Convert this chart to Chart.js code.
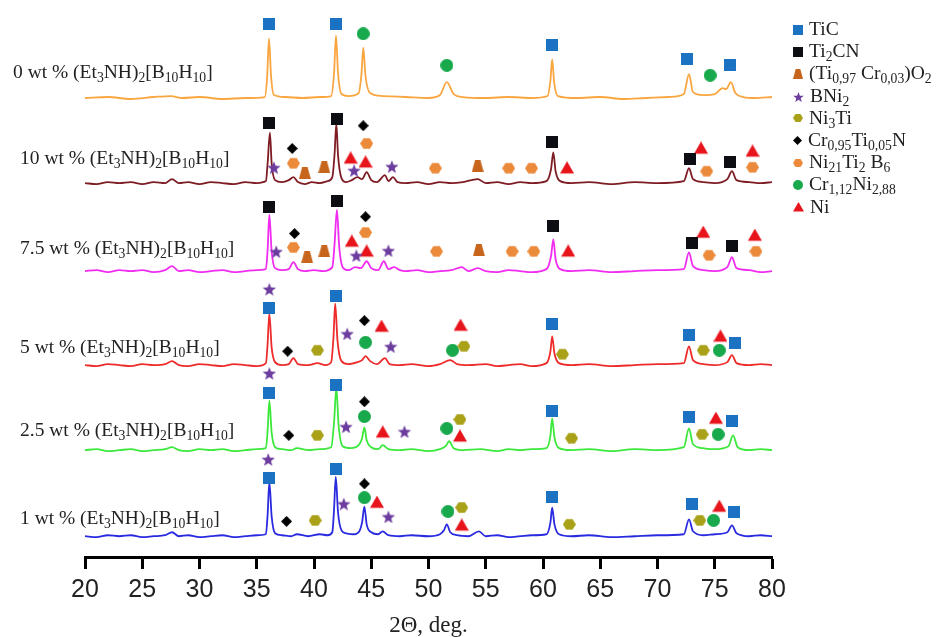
<!DOCTYPE html>
<html>
<head>
<meta charset="utf-8">
<script src="https://cdn.jsdelivr.net/npm/chart.js@4.4.1/dist/chart.umd.min.js"></script>
<style>
  html, body { margin: 0; padding: 0; background: #fff; }
  #wrap { position: relative; width: 951px; height: 637px; }
  #xrd { position: absolute; left: 0; top: 0; }
  .lbl, .lg { position: absolute; font-family: "Liberation Serif", "Times New Roman", serif; font-size: 19.5px; color: #222; white-space: nowrap; transform: translateY(-50%); }
  sub { font-size: 70%; vertical-align: -0.3em; line-height: 0; }
  .lg canvas { vertical-align: middle; margin-right: 6px; position: relative; top: -1px; }
</style>
</head>
<body>
<div id="wrap">
  <canvas id="xrd" width="951" height="637"></canvas>
</div>
<script>
// ---- data ----
// sample names (left of each pattern), top to bottom
const amostras = ['0 wt %', '10 wt %', '7.5 wt %', '5 wt %', '2.5 wt %', '1 wt %'];
const coresLinha = ['#f9a640', '#7e1c24', '#f02cf0', '#ee2b2b', '#3be83b', '#2a2ae0'];
// vertical offset of each pattern on the stacked axis
const deslocamentos = [464, 378, 289, 194, 108, 21];

// patterns: [2theta, intensity above its own baseline]
const p0 = [[20,0],[22,1],[24,-1],[26,1],[27.5,2],[28.5,0],[30,1],[32,-1],[34,0],[35.7,1],[35.9,20],[36.07,60],[36.25,22],[36.5,3],[37.5,1],[39,0],[40.5,1],[41.5,2],[41.75,25],[41.92,63],[42.1,25],[42.4,4],[43,2],[43.9,5],[44.15,25],[44.3,51],[44.5,22],[44.9,5],[46,2],[48,1],[50,0],[51,3],[51.6,16],[52.2,4],[53,1],[55,0],[57,1],[59,0],[60.4,2],[60.65,18],[60.8,39],[60.98,15],[61.3,2],[63,0],[65,1],[67,-1],[69,0],[71,1],[72.3,4],[72.75,24],[73.1,6],[74,3],[75,4],[75.7,10],[76.0,9],[76.4,16],[76.8,5],[77.5,1],[78.5,0],[80,1]];
const p1 = [[20,0],[21,-1],[22,1],[23,0],[24,1],[25,-1],[26,1],[27,0],[27.6,4],[28.2,0],[29,1],[30,-1],[31,1],[32,0],[33,-1],[34,1],[35,0],[35.8,2],[35.95,20],[36.15,51],[36.3,20],[36.6,3],[37.2,1],[37.8,3],[38.2,6],[38.6,1],[39.2,-1],[39.8,1],[40.5,0],[41.2,2],[41.6,6],[41.8,30],[41.95,60],[42.1,28],[42.4,5],[42.8,1],[43.3,3],[43.8,6],[44.2,4],[44.6,11],[45.0,3],[45.5,1],[46.2,8],[46.5,2],[46.9,6],[47.3,1],[48,0],[49,1],[50,-1],[51,1],[52,0],[53,1],[54.3,4],[55,0],[56,1],[57,-1],[58,1],[59,0],[60.3,2],[60.7,14],[60.9,31],[61.1,12],[61.5,2],[62.5,0],[64,1],[66,-1],[68,1],[70,0],[72.3,2],[72.75,15],[73.1,4],[74,1],[75,0],[76.1,4],[76.5,12],[76.9,3],[78,1],[79,0],[80,1]];
const p2 = [[20,0],[21,1],[22,-1],[23,1],[24,0],[25,1],[26,-1],[27,1],[27.6,5],[28.2,0],[29,1],[30,-1],[31,0],[32,1],[33,-1],[34,0],[35,1],[35.8,2],[35.95,22],[36.1,57],[36.3,20],[36.6,3],[37.2,1],[37.8,2],[38.2,9],[38.6,2],[39.2,0],[40,1],[40.8,0],[41.6,4],[41.8,28],[42.0,62],[42.2,25],[42.5,4],[43,1],[43.6,4],[44.1,3],[44.6,10],[45.0,3],[45.6,1],[46.1,10],[46.5,2],[47,4],[47.5,1],[48,0],[49,1],[50,-1],[51,0],[52,1],[52.9,4],[53.5,0],[54.3,3],[55,0],[56,-1],[57,1],[58,0],[59,-1],[60.3,2],[60.7,15],[60.9,32],[61.1,12],[61.5,2],[62.5,0],[64,1],[66,-1],[68,0],[70,1],[72.3,2],[72.75,19],[73.1,5],[74,1],[75,0],[76.1,4],[76.5,14],[76.9,3],[78,1],[79,-1],[80,0]];
const p3 = [[20,0],[21,-1],[22,1],[23,0],[24,-1],[25,1],[26,0],[27,1],[27.6,4],[28.2,0],[29,-1],[30,1],[31,0],[32,-1],[33,1],[34,0],[35,-1],[35.8,2],[35.95,22],[36.1,52],[36.3,18],[36.6,3],[37.2,0],[37.8,1],[38.2,7],[38.6,1],[39.5,0],[40.3,2],[41,0],[41.5,3],[41.7,28],[41.85,62],[42.05,25],[42.4,4],[43,1],[43.8,3],[44.2,5],[44.5,9],[44.9,4],[45.5,1],[46.2,7],[46.6,1],[47.5,0],[48.5,1],[50,-1],[51,1],[51.9,5],[52.5,1],[53.5,0],[55,1],[56,-1],[57,0],[58,1],[59,-1],[60.3,2],[60.65,14],[60.8,29],[61.0,12],[61.4,2],[62.5,0],[64,1],[66,-1],[68,0],[70,1],[72.3,2],[72.75,19],[73.1,5],[74,1],[75,0],[76.1,3],[76.5,10],[76.9,2],[78,0],[79,1],[80,0]];
const p4 = [[20,0],[21,1],[22,-1],[23,0],[24,1],[25,-1],[26,0],[27,1],[27.6,3],[28.2,0],[29,-1],[30,1],[31,0],[32,1],[33,-1],[34,0],[35,1],[35.8,2],[35.95,20],[36.1,50],[36.3,18],[36.6,3],[37.2,1],[38,0],[38.5,2],[39.5,0],[40.5,1],[41.5,3],[41.75,28],[41.95,63],[42.15,25],[42.5,4],[43.2,2],[43.9,5],[44.2,12],[44.4,23],[44.6,10],[45,3],[45.6,1],[46,5],[46.5,1],[47.5,0],[48.5,1],[50,-1],[51,1],[51.5,4],[51.8,9],[52.2,2],[53,0],[54.5,1],[56,-1],[57,1],[58,0],[59,1],[60.3,2],[60.65,15],[60.8,32],[61.0,13],[61.4,2],[62.5,0],[64,1],[66,-1],[68,1],[70,0],[72.3,3],[72.75,22],[73.1,6],[74,2],[75,1],[76.2,4],[76.6,15],[77,3],[78,0],[79,1],[80,0]];
const p5 = [[20,0],[21,-1],[22,1],[23,0],[24,1],[25,-1],[26,0],[27,1],[27.6,4],[28.2,0],[29,1],[30,-1],[31,0],[32,1],[33,-1],[34,0],[35,1],[35.8,2],[35.95,22],[36.1,55],[36.3,20],[36.6,3],[37.2,1],[38,0],[38.5,2],[39.5,0],[40.5,2],[41.2,1],[41.6,4],[41.75,27],[41.9,60],[42.1,24],[42.4,6],[42.8,3],[43.5,2],[44.0,6],[44.2,14],[44.4,30],[44.6,12],[45,4],[45.6,2],[46,5],[46.5,1],[47.5,0],[48.5,1],[50,0],[51,2],[51.35,6],[51.6,12],[51.9,4],[52.5,1],[53.5,0],[54.4,5],[55,0],[56,1],[57,-1],[58,0],[59,1],[60.3,2],[60.65,14],[60.8,29],[61.0,12],[61.4,2],[62.5,0],[64,1],[66,-1],[68,0],[70,1],[72.3,2],[72.75,17],[73.1,5],[74,1],[75,2],[76.1,4],[76.5,11],[76.9,3],[78,0],[79,1],[80,0]];
const padroes = [p0, p1, p2, p3, p4, p5];

// phase markers: [2theta, level on the stacked axis]
const mTiC = [[36.1,539],[41.9,539],[60.8,518],[72.6,503],[76.3,497],
  [36.1,252],[41.9,264],[60.8,236],[72.75,224],[76.8,216],
  [36.1,166],[41.9,174],[60.8,148],[72.75,142],[76.5,137],
  [36.1,80],[41.9,89],[60.8,61],[73.0,54],[76.7,45]];
const mTi2CN = [[36.1,439],[42.0,443],[60.8,420],[72.8,402],[76.3,399],
  [36.1,354],[42.0,360],[60.9,335],[73.0,317],[76.5,314]];
const mTiCrO2 = [[39.2,388],[40.9,394],[54.3,395],[39.4,303],[40.9,309],[54.4,310]];
const mBNi2 = [[36.5,394],[43.5,391],[46.8,395],
  [36.7,309],[43.7,305],[46.5,310],
  [36.1,271],[42.9,226],[46.7,213],
  [36.1,186],[42.8,132],[47.9,127],
  [36.0,99],[42.6,54],[46.5,41]];
const mNi3Ti = [[40.3,209],[53.1,213],[61.7,205],[74.0,209],
  [40.3,123],[52.75,139],[62.5,120],[73.9,124],
  [40.1,37],[52.9,50],[62.3,33],[73.7,37]];
const mCrTiN = [[38.1,413],[44.3,436],[38.3,327],[44.5,344],[37.7,208],[44.4,239],
  [37.8,123],[44.4,157],[37.6,36],[44.4,74]];
const mNi21 = [[38.2,398],[44.6,418],[50.6,393],[57.0,393],[59.0,393],[74.3,390],[78.3,394],
  [38.2,313],[44.5,328],[50.7,309],[57.3,309],[59.2,309],[74.5,305],[78.6,309]];
const mCrNi = [[44.3,529],[51.6,497],[74.6,487],
  [44.5,217],[52.1,209],[75.4,209],
  [44.4,142],[51.6,130],[75.3,124],
  [44.4,60],[51.7,46],[74.9,37]];
const mNi = [[43.2,403],[44.5,399],[62.1,393],[73.8,413],[78.3,410],
  [43.3,319],[44.6,309],[62.2,309],[74.0,328],[78.5,325],
  [45.9,233],[52.8,234],[75.5,223],
  [46.0,126],[52.75,122],[75.1,140],
  [45.5,55],[52.9,32],[75.4,51]];

const fases = ['TiC', 'Ti<sub>2</sub>CN', '(Ti<sub>0,97</sub> Cr<sub>0,03</sub>)O<sub>2</sub>', 'BNi<sub>2</sub>',
  'Ni<sub>3</sub>Ti', 'Cr<sub>0,95</sub>Ti<sub>0,05</sub>N', 'Ni<sub>21</sub>Ti<sub>2</sub> B<sub>6</sub>',
  'Cr<sub>1,12</sub>Ni<sub>2,88</sub>', 'Ni'];
const xTicks = [20, 25, 30, 35, 40, 45, 50, 55, 60, 65, 70, 75, 80];

// ---- little marker images ----
function forma(tipo, cor, s) {
  const c = document.createElement('canvas');
  c.width = s; c.height = s;
  const g = c.getContext('2d');
  const m = s / 2;
  g.fillStyle = cor;
  g.beginPath();
  if (tipo === 'quad') {
    g.rect(0, 0, s, s);
  } else if (tipo === 'losango') {
    g.moveTo(m, 0); g.lineTo(s, m); g.lineTo(m, s); g.lineTo(0, m);
  } else if (tipo === 'circ') {
    g.arc(m, m, m, 0, Math.PI * 2);
  } else if (tipo === 'hex') {
    for (let i = 0; i < 6; i++) {
      const a = Math.PI / 3 * i;
      g.lineTo(m + m * Math.cos(a), m + m * 0.92 * Math.sin(a));
    }
  } else if (tipo === 'trap') {
    g.moveTo(s * 0.27, 0); g.lineTo(s * 0.73, 0); g.lineTo(s, s); g.lineTo(0, s);
  } else if (tipo === 'tri') {
    g.moveTo(m, 0); g.lineTo(s, s * 0.87); g.lineTo(0, s * 0.87);
  } else if (tipo === 'estrela') {
    for (let i = 0; i < 10; i++) {
      const r = i % 2 ? m * 0.42 : m;
      const a = -Math.PI / 2 + Math.PI / 5 * i;
      g.lineTo(m + r * Math.cos(a), m + 1 + r * Math.sin(a));
    }
  }
  g.closePath();
  g.fill();
  return c;
}

const estilos = [
  ['quad', '#1b72c2', 12], ['quad', '#0d0d14', 12], ['trap', '#c8651c', 12], ['estrela', '#6c3c9e', 14],
  ['hex', '#a9a117', 13], ['losango', '#000000', 11], ['hex', '#ec8a3c', 13], ['circ', '#17a94b', 13],
  ['tri', '#e8141c', 14]
];
const marcadores = [mTiC, mTi2CN, mTiCrO2, mBNi2, mNi3Ti, mCrTiN, mNi21, mCrNi, mNi];

// ---- datasets ----
const conjuntos = [];
padroes.forEach((p, i) => {
  conjuntos.push({
    data: p.map(v => ({ x: v[0], y: v[1] + deslocamentos[i] })),
    showLine: true,
    borderColor: coresLinha[i],
    borderWidth: 1.8,
    pointRadius: 0,
    cubicInterpolationMode: 'monotone',
    order: 2
  });
});
marcadores.forEach((m, i) => {
  const e = estilos[i];
  conjuntos.push({
    data: m.map(v => ({ x: v[0], y: v[1] })),
    showLine: false,
    pointStyle: forma(e[0], e[1], e[2]),
    pointRadius: 6,
    order: 1
  });
});

new Chart(document.getElementById('xrd'), {
  type: 'scatter',
  data: { datasets: conjuntos },
  options: {
    responsive: false,
    animation: false,
    events: [],
    layout: { padding: { left: 85, right: 179, top: 0, bottom: 0 } },
    plugins: { legend: { display: false }, tooltip: { enabled: false } },
    scales: {
      x: {
        type: 'linear', min: 20, max: 80,
        afterBuildTicks: ax => { ax.ticks = xTicks.map(v => ({ value: v })); },
        border: { display: true, color: '#000', width: 3 },
        grid: { drawOnChartArea: false, drawTicks: true, tickLength: 12, tickWidth: 3, tickColor: '#000' },
        ticks: { color: '#222', padding: 6, font: { family: '"Liberation Sans", Arial, sans-serif', size: 25 } },
        title: { display: true, text: '2Θ, deg.', color: '#222', padding: { top: 3, bottom: 0 },
          font: { family: '"Liberation Serif", "Times New Roman", serif', size: 23, lineHeight: 1.0 } }
      },
      y: { display: false, min: 0, max: 556 }
    },
    clip: false
  }
});

// ---- sample labels and legend (HTML text, with subscripts) ----
const wrap = document.getElementById('wrap');
const yRotulos = [72, 158, 248, 347, 430, 518];
const xRotulos = [13, 20, 20, 20, 20, 20];
amostras.forEach((a, i) => {
  const d = document.createElement('div');
  d.className = 'lbl';
  d.style.left = xRotulos[i] + 'px';
  d.style.top = yRotulos[i] + 'px';
  d.innerHTML = a + ' (Et<sub>3</sub>NH)<sub>2</sub>[B<sub>10</sub>H<sub>10</sub>]';
  wrap.appendChild(d);
});
fases.forEach((f, i) => {
  const d = document.createElement('div');
  d.className = 'lg';
  d.style.left = '793px';
  d.style.top = (29 + i * 22.2) + 'px';
  const e = estilos[i];
  d.appendChild(forma(e[0], e[1], Math.round(e[2] * 0.8)));
  const t = document.createElement('span');
  t.innerHTML = f;
  d.appendChild(t);
  wrap.appendChild(d);
});
</script>
</body>
</html>
